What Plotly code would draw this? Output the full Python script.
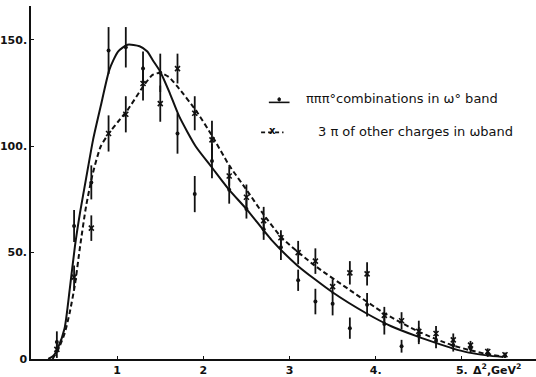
import plotly.graph_objects as go

# Momentum-transfer bins (GeV^2)
bins = [0.3, 0.5, 0.7, 0.9, 1.1, 1.3, 1.5, 1.7, 1.9, 2.1, 2.3, 2.5, 2.7, 2.9,
        3.1, 3.3, 3.5, 3.7, 3.9, 4.1, 4.3, 4.5, 4.7, 4.9, 5.1, 5.3, 5.5]

# pi pi pi0 combinations in the omega band
omega_counts = [8, 62.5, 83, 145, 146.5, 136.5, 134.5, 106, 77.5, 93, 79.5, 70.5, 61,
                52.5, 37, 27, 26, 14.5, 25.5, 16.5, 6, 11, 8.5, 6.5, 5, 2.5, 1.5]
omega_err = [5, 7.5, 8, 11, 9.5, 8, 9, 9.5, 8.5, 8, 6.5, 4.5, 5, 6, 5, 6, 5.5, 5,
             5.5, 5, 3, 4, 3.5, 3, 2, 1.5, 1]

# 3 pi of other charges in the omega band
other_counts = [4.5, 38.5, 61.5, 106, 115, 129.5, 120, 136.5, 115.5, 103, 86, 76, 65,
                57, 50, 46, 34, 40.5, 40, 20.5, 18, 13, 12, 9, 6.5, 3.5, 2]
other_err = [4, 5.5, 6, 8.5, 8.5, 8, 8.5, 7, 8, 9, 4.5, 6, 6.5, 3.5, 5.5, 6, 3.5,
             5.5, 5.5, 4, 4, 5, 3.5, 3, 2, 1.5, 1]

# Hand-drawn fit curves
solid_x = [0.20, 0.26, 0.31, 0.39, 0.45, 0.51, 0.57, 0.64, 0.72, 0.81, 0.91, 1.01,
           1.12, 1.26, 1.35, 1.41, 1.50, 1.61, 1.72, 1.91, 2.10, 2.30, 2.51, 2.79,
           3.09, 3.49, 3.89, 4.18, 4.49, 4.68, 4.89, 5.08, 5.29, 5.48]
solid_y = [0, 1.5, 5, 14.5, 33, 53, 69, 85, 103, 119, 136, 144.5, 147.7, 147, 144.5,
           140.6, 135, 125, 114, 100, 90, 79.5, 70, 56, 44, 31.6, 21.5, 15.4, 10.5,
           7.8, 5, 3, 1.7, 0.9]

dashed_x = [0.25, 0.31, 0.39, 0.45, 0.51, 0.57, 0.64, 0.72, 0.81, 0.91, 1.01, 1.12,
            1.30, 1.41, 1.50, 1.60, 1.70, 1.91, 2.10, 2.30, 2.51, 2.68, 2.91, 3.29,
            3.70, 4.10, 4.49, 4.87, 5.08, 5.29, 5.48]
dashed_y = [0, 4, 12, 22, 35, 53, 72, 87.7, 100, 106.4, 111.5, 117, 128, 133.5, 134.5,
            132.5, 128, 117, 105, 91, 79, 69, 57, 44, 32.4, 21.5, 13, 6.7, 4.3, 2.3, 1.2]

x_ticks = [1, 2, 3, 4, 5]
x_ticktext = ["1", "2", "3", "4.", "5."]
y_ticks = [0, 50, 100, 150]
y_ticktext = ["0", "50.", "100.", "150."]

INK = "#111111"
FONT = dict(family="DejaVu Sans", size=11, color=INK, weight="bold")
KEY_FONT = dict(family="DejaVu Sans", size=13, color=INK)

fig = go.Figure()

fig.add_trace(go.Scatter(x=solid_x, y=solid_y, mode="lines",
                         line=dict(color=INK, width=2, shape="spline", smoothing=0.6),
                         showlegend=False, hoverinfo="skip"))
fig.add_trace(go.Scatter(x=dashed_x, y=dashed_y, mode="lines",
                         line=dict(color=INK, width=2, dash="5px,3px", shape="spline",
                                   smoothing=0.6),
                         showlegend=False, hoverinfo="skip"))

fig.add_trace(go.Scatter(x=bins, y=omega_counts, mode="markers",
                         marker=dict(symbol="circle", size=4, color=INK),
                         error_y=dict(type="data", array=omega_err, color=INK,
                                      thickness=1.8, width=0),
                         showlegend=False))
fig.add_trace(go.Scatter(x=bins, y=other_counts, mode="markers",
                         marker=dict(symbol="x-thin", size=5,
                                     line=dict(color=INK, width=1.6)),
                         error_y=dict(type="data", array=other_err, color=INK,
                                      thickness=1.8, width=0),
                         showlegend=False))

# Legend key drawn by hand
fig.add_shape(type="line", xref="x", yref="y", x0=2.76, x1=3.0, y0=120.6, y1=120.6,
              line=dict(color=INK, width=1.6))
fig.add_shape(type="line", xref="x", yref="y", x0=2.67, x1=2.93, y0=106.5, y1=106.5,
              line=dict(color=INK, width=1.6, dash="4px,3px"))
fig.add_shape(type="circle", xref="x", yref="y", x0=2.865, x1=2.895, y0=121.2, y1=122.8,
              line=dict(color=INK, width=1), fillcolor=INK)
fig.add_annotation(x=2.80, y=107.5, xref="x", yref="y", text="x", showarrow=False,
                   font=dict(family="DejaVu Sans", size=10, color=INK, weight="bold"))
fig.add_annotation(x=3.17, y=122.4, xref="x", yref="y", xanchor="left",
                   text="πππ°combinations in ω° band", showarrow=False,
                   font=KEY_FONT)
fig.add_annotation(x=3.31, y=107.0, xref="x", yref="y", xanchor="left",
                   text="3 π of other charges in ωband", showarrow=False,
                   font=KEY_FONT)

# Axis unit label next to the last tick
fig.add_annotation(x=5.10, y=0, xref="x", yref="y", xanchor="left", yanchor="top",
                   yshift=-1, text="Δ<sup>2</sup>,GeV<sup>2</sup>", showarrow=False,
                   font=FONT)

fig.update_xaxes(range=[0, 5.86], showgrid=False, zeroline=False,
                 showline=True, linecolor=INK, linewidth=1.5,
                 tickvals=x_ticks, ticktext=x_ticktext, ticks="inside", ticklen=3,
                 tickcolor=INK, tickfont=FONT)
fig.update_yaxes(range=[0, 165.9], showgrid=False, zeroline=False,
                 showline=True, linecolor=INK, linewidth=1.5,
                 tickvals=y_ticks, ticktext=y_ticktext, ticks="inside", ticklen=3,
                 tickcolor=INK, tickfont=FONT)

fig.update_layout(width=536, height=377, margin=dict(l=28, r=0, t=6, b=16),
                  paper_bgcolor="white", plot_bgcolor="white", showlegend=False)

fig.write_html("out.html")
